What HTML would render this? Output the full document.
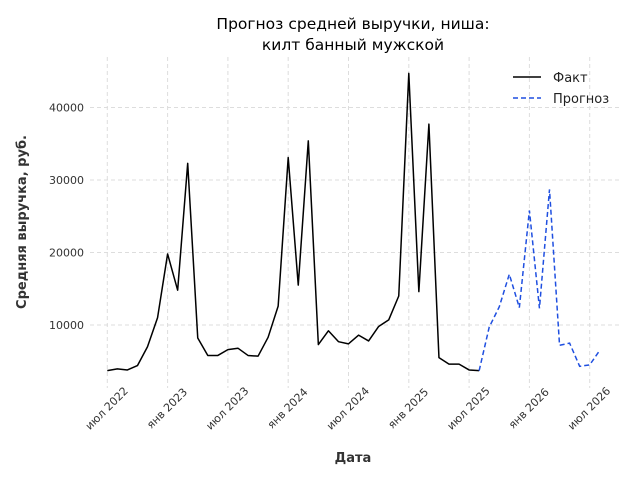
<!DOCTYPE html>
<html><head><meta charset="utf-8"><style>
body{margin:0;background:#fff;}
svg text{font-family:"DejaVu Sans","Liberation Sans",sans-serif;}
</style></head><body>
<svg id="chart" width="640" height="480" xmlns="http://www.w3.org/2000/svg">
<rect width="640" height="480" fill="#fff"/>
<g id="grid"></g>
<g id="ticks"></g>
<text x="353" y="29" font-size="15.5" text-anchor="middle" fill="#000">Прогноз средней выручки, ниша:</text>
<text x="353" y="50" font-size="15.5" text-anchor="middle" fill="#000">килт банный мужской</text>
<text x="353" y="462" font-size="13" font-weight="bold" text-anchor="middle" fill="#333">Дата</text>
<text transform="translate(26,222) rotate(-90)" font-size="13" font-weight="bold" text-anchor="middle" fill="#333">Средняя выручка, руб.</text>
<g id="series"></g>
<g>
<line x1="513" y1="77" x2="541" y2="77" stroke="#000" stroke-width="1.5"/>
<text x="553" y="82" font-size="13" fill="#222">Факт</text>
<line x1="513" y1="98" x2="541" y2="98" stroke="#1f4fe0" stroke-width="1.5" stroke-dasharray="5,3"/>
<text x="553" y="103" font-size="13" fill="#222">Прогноз</text>
</g>
</svg>
<script>
const factValues=[3700,3950,3800,4400,7000,11000,19800,14800,32300,8200,5800,5800,6600,6800,5800,5700,8300,12600,33100,15500,35400,7300,9200,7700,7400,8600,7800,9800,10700,14000,44700,14600,37700,5500,4600,4600,3800,3700];
const forecastValues=[3700,9700,12500,17000,12400,25800,12300,28700,7200,7500,4300,4500,6500];
const forecastStart=37;
const yTicks=[10000,20000,30000,40000];
const xTickLabels=["июл 2022","янв 2023","июл 2023","янв 2024","июл 2024","янв 2025","июл 2025","янв 2026","июл 2026"];
const xTickMonths=[0,6,12,18,24,30,36,42,48];
const NS="http://www.w3.org/2000/svg";
function xs(i){return 107.3+i*10.05;}
function ys(v){return 397.5-v*0.00725;}
const grid=document.getElementById('grid'),ticks=document.getElementById('ticks'),series=document.getElementById('series');
function mk(tag,attrs,parent){const e=document.createElementNS(NS,tag);for(const k in attrs)e.setAttribute(k,attrs[k]);parent.appendChild(e);return e;}
yTicks.forEach(v=>{
 const l=mk('line',{x1:90,x2:622,y1:ys(v),y2:ys(v),stroke:'#ddd','stroke-dasharray':'4,3','stroke-width':1},grid);
 
 
 const t=mk('text',{x:84,y:ys(v)+4,'font-size':11,'text-anchor':'end',fill:'#333'},ticks);
 
 
 t.textContent=v;
});
xTickMonths.forEach((m,k)=>{
 const x=xs(m);
 const l=mk('line',{x1:x,x2:x,y1:57,y2:388,stroke:'#ddd','stroke-dasharray':'4,3','stroke-width':1},grid);
 
 
 const t=mk('text',{transform:`translate(${x+2},${411}) rotate(-45)`,'font-size':11,'text-anchor':'middle',fill:'#333'},ticks);
 
 
 t.textContent=xTickLabels[k];
});
const fp=mk('polyline',{points:factValues.map((v,i)=>xs(i)+','+ys(v)).join(' '),fill:'none',stroke:'#000','stroke-width':1.5,'stroke-linejoin':'round'},series);


const pp=mk('polyline',{points:forecastValues.map((v,i)=>xs(forecastStart+i)+','+ys(v)).join(' '),fill:'none',stroke:'#1f4fe0','stroke-width':1.5,'stroke-dasharray':'5,3'},series);


</script>
</body></html>
